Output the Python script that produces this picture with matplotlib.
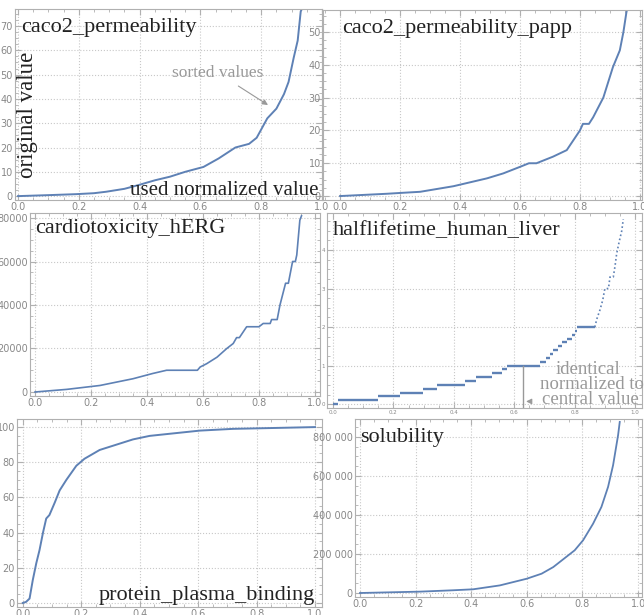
import matplotlib
matplotlib.use("Agg")
import matplotlib.pyplot as plt
from matplotlib.ticker import AutoMinorLocator

W, H = 644, 615
BLUE = '#5E81B5'
GREY = '#999999'

# caco2_permeability
caco_x = [0.0, 0.1, 0.19, 0.25, 0.29, 0.35, 0.395, 0.45, 0.5, 0.55, 0.61, 0.66, 0.715, 0.76, 0.785, 0.82, 0.85, 0.875, 0.89, 0.907, 0.92, 0.93, 0.945]
caco_y = [0.0, 0.4, 0.8, 1.2, 1.8, 3.0, 4.5, 6.5, 8.0, 10.0, 12.0, 15.5, 20.0, 21.5, 24.0, 32.0, 36.0, 42.0, 47.0, 57.0, 64.0, 76.0, 80.0]

# caco2_permeability_papp
papp_x = [0.0, 0.156, 0.21, 0.267, 0.378, 0.49, 0.544, 0.6, 0.63, 0.655, 0.71, 0.756, 0.8, 0.81, 0.83, 0.844, 0.878, 0.91, 0.933, 0.945, 0.955, 0.96]
papp_y = [0.0, 0.7, 1.0, 1.3, 3.0, 5.4, 6.9, 8.9, 10.0, 10.0, 12.0, 14.0, 20.0, 22.0, 22.0, 24.0, 30.0, 39.3, 44.4, 50.0, 56.0, 58.0]

# cardiotoxicity_hERG
herg_x = [0.0, 0.113, 0.232, 0.35, 0.42, 0.47, 0.58, 0.59, 0.613, 0.65, 0.685, 0.708, 0.72, 0.73, 0.756, 0.8, 0.815, 0.84, 0.845, 0.865, 0.875, 0.895, 0.905, 0.92, 0.93, 0.935, 0.946, 0.952]
herg_y = [0, 1200, 3000, 6100, 8500, 10000, 10000, 11500, 13000, 16000, 20000, 22300, 25000, 25000, 30000, 30000, 31500, 31500, 33300, 33300, 40000, 50000, 50000, 60000, 60000, 63000, 79000, 81000]

# halflifetime_human_liver: plateaus (start, end, value) then the sparse tail
hl_start = [0.0, 0.017, 0.149, 0.221, 0.298, 0.343, 0.436, 0.475, 0.525, 0.558, 0.575, 0.685, 0.705, 0.718, 0.729, 0.746, 0.757, 0.774, 0.79, 0.801, 0.807]
hl_end = [0.017, 0.149, 0.221, 0.298, 0.343, 0.436, 0.475, 0.525, 0.558, 0.575, 0.685, 0.705, 0.718, 0.729, 0.746, 0.757, 0.774, 0.79, 0.801, 0.807, 0.867]
hl_val = [0.0, 0.1, 0.2, 0.3, 0.4, 0.5, 0.6, 0.7, 0.8, 0.9, 1.0, 1.1, 1.2, 1.3, 1.4, 1.5, 1.6, 1.7, 1.8, 1.9, 2.0]
hl_tail_x = [0.867, 0.873, 0.884, 0.893, 0.9, 0.912, 0.917, 0.928, 0.934, 0.939, 0.947, 0.956, 0.961]
hl_tail_y = [2.0, 2.2, 2.45, 2.7, 3.0, 3.0, 3.3, 3.3, 3.6, 3.9, 4.2, 4.5, 4.8]

# protein_plasma_binding
ppb_x = [0.0, 0.011, 0.023, 0.034, 0.046, 0.057, 0.069, 0.08, 0.091, 0.109, 0.126, 0.149, 0.183, 0.211, 0.263, 0.32, 0.377, 0.434, 0.491, 0.606, 0.72, 0.834, 1.0]
ppb_y = [0.0, 0.6, 2.5, 13, 22.6, 30, 40, 48, 50, 57, 64, 70, 78, 82, 87, 90, 93, 95, 96, 98, 99, 99.4, 100]

# solubility
sol_x = [0.0, 0.216, 0.335, 0.407, 0.503, 0.599, 0.653, 0.695, 0.772, 0.802, 0.838, 0.868, 0.892, 0.91, 0.928, 0.934]
sol_y = [0, 7000, 14000, 19000, 39000, 73000, 99000, 133000, 219000, 270000, 355000, 441000, 544000, 655000, 809000, 877000]
sol_ticks = [0, 200000, 400000, 600000, 800000]
sol_labels = ['0', '200 000', '400 000', '600 000', '800 000']
herg_ticks = [0, 20000, 40000, 60000, 80000]
herg_labels = ['0', '20000', '40000', '60000', '80000']
x_ticks = [0, 0.2, 0.4, 0.6, 0.8, 1.0]

fig = plt.figure(figsize=(W / 100, H / 100), dpi=100)


def panel(l, t, r, b, xlim, ylim, fs=7):
    ax = fig.add_axes([l / W, 1 - b / H, (r - l) / W, (b - t) / H])
    ax.set_xlim(xlim)
    ax.set_ylim(ylim)
    ax.set_facecolor('white')
    for s in ax.spines.values():
        s.set_color('#b0b0b0')
        s.set_linewidth(0.8)
    ax.xaxis.set_minor_locator(AutoMinorLocator(4))
    ax.yaxis.set_minor_locator(AutoMinorLocator(4))
    ax.tick_params(which='both', direction='in', top=True, right=True, color='#b0b0b0',
                   labelcolor='#888888', labelsize=fs, pad=1.5)
    ax.tick_params(which='major', length=4)
    ax.tick_params(which='minor', length=2)
    ax.grid(True, ls=':', color='#c8c8c8', lw=0.8)
    ax.set_axisbelow(True)
    ax.set_xticks(x_ticks)
    return ax


def label(x, y, s, size=16, ha='left', color='#222222', **kw):
    fig.text(x / W, 1 - y / H, s, fontsize=size, family='Liberation Serif',
             color=color, ha=ha, va='baseline', **kw)


# top left
ax1 = panel(15, 9, 322, 200, (-0.01, 1.0), (-1.6, 77))
ax1.plot(caco_x, caco_y, color=BLUE, lw=1.4)
ax1.set_yticks([0, 10, 20, 30, 40, 50, 60, 70])
label(21, 32, 'caco2_permeability')
fig.text(27 / W, 1 - 115 / H, 'original value', rotation=90, fontsize=16.5,
         family='Liberation Serif', color='#222222', ha='center', va='center')
ax1.annotate('sorted values', xy=(268 / W, 1 - 105 / H), xytext=(218 / W, 1 - 77 / H),
             xycoords='figure fraction', textcoords='figure fraction', fontsize=12.5,
             family='Liberation Serif', color=GREY, ha='center', va='baseline',
             arrowprops=dict(arrowstyle='-|>', color=GREY, lw=0.8, shrinkA=3, shrinkB=0,
                             mutation_scale=8))

# top right
ax2 = panel(323, 10, 642, 200, (-0.057, 1.007), (-1.2, 56.7))
ax2.plot(papp_x, papp_y, color=BLUE, lw=1.4)
ax2.set_yticks([0, 10, 20, 30, 40, 50])
label(342, 33, 'caco2_permeability_papp')

# middle left
ax4 = panel(30, 213, 320, 396, (-0.018, 1.018), (-1840, 82300))
ax4.plot(herg_x, herg_y, color=BLUE, lw=1.2)
ax4.set_yticks(herg_ticks)
ax4.set_yticklabels(herg_labels)
label(35, 233, 'cardiotoxicity_hERG')

# middle right
ax3 = panel(327, 213, 642, 408, (-0.02, 1.023), (-0.1, 4.96), fs=4)
ax3.hlines(hl_val, hl_start, hl_end, color=BLUE, lw=1.7)
ax3.plot(hl_tail_x, hl_tail_y, color=BLUE, lw=1.2, ls=(0, (1, 1.5)))
ax3.set_yticks([0, 1, 2, 3, 4])
label(333, 235, 'halflifetime_human_liver')
ax3.plot([0.63, 0.63], [-0.1, 1.0], color=GREY, lw=1.0)
ax3.annotate('', xy=(0.63, 0.07), xytext=(0.665, 0.07),
             arrowprops=dict(arrowstyle='-|>', color=GREY, lw=0.8, mutation_scale=8))
label(588, 374, 'identical', size=13.5, ha='center', color=GREY)
label(644, 389, 'normalized to', size=13.5, ha='right', color=GREY)
label(639, 404, 'central value', size=13.5, ha='right', color=GREY)

# bottom left
ax5 = panel(17, 419, 322, 607, (-0.02, 1.024), (-2.3, 104.6))
ax5.plot(ppb_x, ppb_y, color=BLUE, lw=1.4)
ax5.set_yticks([0, 20, 40, 60, 80, 100])
label(315, 600, 'protein_plasma_binding', ha='right')

# bottom right
ax6 = panel(355, 419, 642, 597, (-0.018, 1.014), (-20500, 892000))
ax6.plot(sol_x, sol_y, color=BLUE, lw=1.3)
ax6.set_yticks(sol_ticks)
ax6.set_yticklabels(sol_labels)
label(360, 442, 'solubility')

# drawn last so it sits above the neighbouring panel
label(318, 195, 'used normalized value', size=15, ha='right')

fig.savefig('out.png', dpi=100, facecolor='white')
